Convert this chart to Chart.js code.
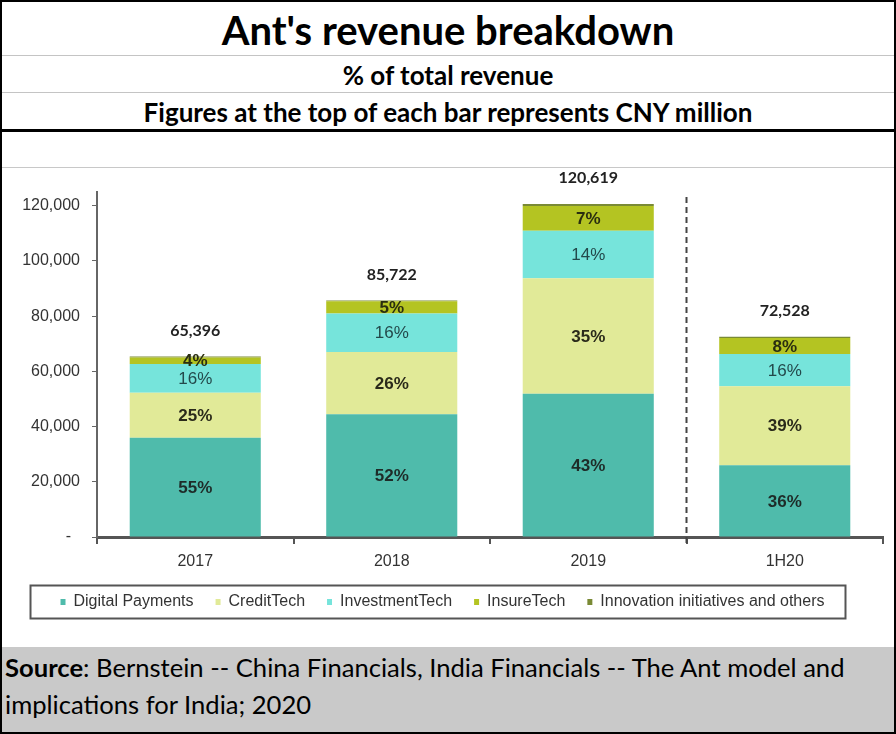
<!DOCTYPE html>
<html>
<head>
<meta charset="utf-8">
<script src="https://cdn.jsdelivr.net/npm/chart.js@4.4.1/dist/chart.umd.min.js"></script>
<style>
    html, body { margin: 0; padding: 0; background: #fff; }
    #marco {
        position: relative; width: 896px; height: 734px; box-sizing: border-box;
        border: 2px solid #000; overflow: hidden; font-family: Lato, 'Open Sans', sans-serif;
    }
    .fila { position: absolute; left: 0; right: 0; text-align: center; font-weight: bold; color: #000; white-space: nowrap; }
    #titulo { top: 0; height: 53px; line-height: 56px; font-size: 40px; border-bottom: 1px solid #c4c4c4; }
    #subtitulo { top: 54px; height: 36px; line-height: 38px; font-size: 26px; border-bottom: 1px solid #c4c4c4; }
    #nota { top: 91px; height: 36px; line-height: 38px; font-size: 26px; border-bottom: 3px solid #000; }
    #lineaCelda { position: absolute; left: 0; right: 0; top: 165px; height: 0; border-top: 1px solid #c8c8c8; }
    #cajaGrafico { position: absolute; left: 0; top: 166px; width: 892px; height: 479px; }
    #pie {
        position: absolute; left: 0; right: 0; top: 645px; bottom: 0; background: #c9c9c9;
        font-size: 25.6px; line-height: 37px; padding: 2px 0 0 3px; color: #000; white-space: nowrap;
    }
</style>
</head>
<body>
<div id="marco">
    <div id="titulo" class="fila">Ant's revenue breakdown</div>
    <div id="subtitulo" class="fila">% of total revenue</div>
    <div id="nota" class="fila">Figures at the top of each bar represents CNY million</div>
    <div id="lineaCelda"></div>
    <div id="cajaGrafico"><canvas id="chartIngresos"></canvas></div>
    <div id="pie"><b>Source</b>: Bernstein -- China Financials, India Financials -- The Ant model and<br>implications for India; 2020</div>
</div>
<script>
// Datos (CNY millones)
const periodos = ['2017', '2018', '2019', '1H20'];
const digitalPayments = [35967, 44438, 51905, 26011];
const creditTech = [16286, 22609, 41885, 28586];
const investmentTech = [10462, 13945, 17212, 11700];
const insureTech = [2297, 4428, 8950, 5800];
const innovacion = [384, 302, 667, 431];
const ticksEjeY = [0, 20000, 40000, 60000, 80000, 100000, 120000];

const fuenteEje = "'Liberation Sans', Arial, sans-serif";
Chart.defaults.font.family = fuenteEje;
Chart.defaults.font.size = 16;
Chart.defaults.color = '#333';

// Porcentajes dentro de cada tramo, totales arriba y separador punteado
const etiquetasBarras = {
    id: 'etiquetasBarras',
    afterDatasetsDraw(chart) {
        const ctx = chart.ctx;
        const sets = chart.data.datasets;
        const totales = periodos.map((p, i) => sets.reduce((s, d) => s + d.data[i], 0));
        ctx.save();
        ctx.textAlign = 'center';
        ctx.textBaseline = 'middle';
        sets.forEach((ds, di) => {
            if (!ds.mostrarPct) return;
            chart.getDatasetMeta(di).data.forEach((barra, i) => {
                const pct = Math.round(ds.data[i] / totales[i] * 100);
                ctx.font = (ds.pctNegrita ? 'bold ' : '') + '17px ' + fuenteEje;
                ctx.fillStyle = ds.colorPct;
                ctx.fillText(pct + '%', barra.x, (barra.y + barra.base) / 2 + 1);
            });
        });
        const ultima = chart.getDatasetMeta(sets.length - 1);
        ctx.font = "bold 16px Lato, 'Open Sans', sans-serif";
        ctx.fillStyle = '#222';
        ultima.data.forEach((barra, i) => {
            ctx.fillText(totales[i].toLocaleString('en-US'), barra.x, barra.y - 26);
        });
        // linea punteada entre anuales y semestre
        const x = chart.scales.x;
        const xSep = (x.getPixelForValue(2) + x.getPixelForValue(3)) / 2;
        ctx.strokeStyle = '#444';
        ctx.lineWidth = 2;
        ctx.setLineDash([6, 4]);
        ctx.beginPath();
        ctx.moveTo(xSep, chart.chartArea.top + 5);
        ctx.lineTo(xSep, chart.chartArea.bottom + 8);
        ctx.stroke();
        ctx.restore();
    },
    afterDraw(chart) {
        // marco de la leyenda
        const cajas = chart.legend.legendHitBoxes;
        if (!cajas || !cajas.length) return;
        const ctx = chart.ctx;
        const x0 = Math.min(...cajas.map(b => b.left)) - 30;
        const x1 = Math.max(...cajas.map(b => b.left + b.width)) + 21;
        const yc = cajas[0].top + cajas[0].height / 2;
        ctx.save();
        ctx.strokeStyle = '#555';
        ctx.lineWidth = 2;
        ctx.strokeRect(x0, yc - 16.5, x1 - x0, 33);
        ctx.restore();
    }
};

const ctx = document.getElementById('chartIngresos').getContext('2d');
const chartIngresos = new Chart(ctx, {
    type: 'bar',
    data: {
        labels: periodos,
        datasets: [
            { label: 'Digital Payments', data: digitalPayments, backgroundColor: '#4fbbab',
              mostrarPct: true, pctNegrita: true, colorPct: '#1e2b28' },
            { label: 'CreditTech', data: creditTech, backgroundColor: '#e1ea98',
              mostrarPct: true, pctNegrita: true, colorPct: '#2a2a1a' },
            { label: 'InvestmentTech', data: investmentTech, backgroundColor: '#76e4db',
              mostrarPct: true, pctNegrita: false, colorPct: '#23494b' },
            { label: 'InsureTech', data: insureTech, backgroundColor: '#b4c422',
              mostrarPct: true, pctNegrita: true, colorPct: '#2a2e10' },
            { label: 'Innovation initiatives and others', data: innovacion, backgroundColor: '#7a8a35',
              mostrarPct: false }
        ]
    },
    options: {
        responsive: true,
        maintainAspectRatio: false,
        animation: false,
        categoryPercentage: 1,
        barPercentage: 0.667,
        layout: { padding: { top: 24, left: 0, right: 11, bottom: 27 } },
        plugins: {
            legend: {
                position: 'bottom',
                labels: { boxWidth: 5, boxHeight: 6, padding: 22, color: '#333', font: { size: 16 } }
            },
            tooltip: { enabled: false }
        },
        scales: {
            x: {
                stacked: true,
                grid: { offset: true, drawOnChartArea: false, drawTicks: true, tickLength: 7, color: '#555', lineWidth: 2 },
                border: { color: '#555', width: 3 },
                ticks: { padding: 8, color: '#333' },
                afterFit: scale => { scale.height = 35; }
            },
            y: {
                stacked: true,
                min: 0,
                max: 125000,
                grid: { drawOnChartArea: false, drawTicks: true, tickLength: 5, color: '#666' },
                border: { color: '#666', width: 2 },
                afterBuildTicks: scale => { scale.ticks = ticksEjeY.map(v => ({ value: v })); },
                ticks: {
                    padding: 12,
                    color: '#333',
                    callback: value => value === 0 ? '-  ' : value.toLocaleString('en-US')
                },
                afterFit: scale => { scale.width = 95; }
            }
        }
    },
    plugins: [etiquetasBarras]
});
</script>
</body>
</html>
